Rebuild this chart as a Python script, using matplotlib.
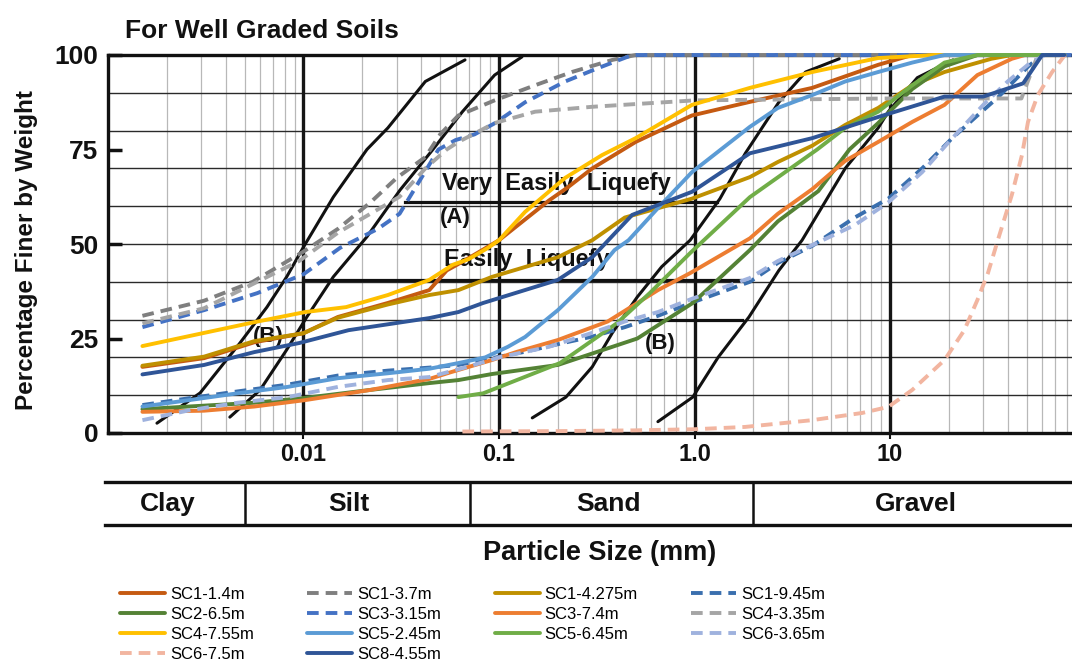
import matplotlib.pyplot as plt
from matplotlib.lines import Line2D
from matplotlib.ticker import NullLocator

plt.rcParams['font.family'] = ['Liberation Sans', 'DejaVu Sans']

# ---- sample curves (particle size in mm, percent finer) ----
sc1_14_x = [0.0015, 0.0031, 0.0056, 0.01, 0.015, 0.027, 0.044, 0.054, 0.066, 0.1, 0.136, 0.18, 0.225, 0.3, 0.5, 0.97, 1.92, 4.0, 8.7, 13, 78]
sc1_14_y = [17.5, 19.8, 24, 26.4, 30.7, 34.4, 37.8, 43, 45.5, 51, 56.5, 61.5, 65, 70, 77, 84, 87.6, 91.3, 97.4, 100, 100]

sc1_37_x = [0.0015, 0.0031, 0.0055, 0.01, 0.015, 0.022, 0.03, 0.042, 0.05, 0.062, 0.095, 0.153, 0.236, 0.38, 0.5, 78]
sc1_37_y = [31, 35, 40, 48, 54, 61, 67.5, 73, 79, 84, 88, 92, 95.5, 98.7, 100, 100]

sc1_4275_x = [0.0015, 0.0031, 0.0056, 0.01, 0.015, 0.027, 0.044, 0.062, 0.092, 0.2, 0.3, 0.44, 0.97, 1.92, 2.67, 4.0, 5.9, 8.7, 13, 19, 33, 42, 78]
sc1_4275_y = [17.8, 20.2, 24.3, 26.4, 30.5, 34, 36.5, 37.8, 41.3, 46.5, 51, 57, 62, 67.7, 71.7, 76, 81.5, 86, 92, 95.5, 99, 100, 100]

sc1_945_x = [0.0015, 0.0026, 0.0046, 0.0083, 0.015, 0.027, 0.044, 0.062, 0.092, 0.136, 0.2, 0.3, 0.44, 0.65, 0.97, 1.92, 2.67, 4.0, 6.6, 9.8, 14.6, 20.8, 28, 36, 51, 60, 78]
sc1_945_y = [7.4, 9.2, 11, 12.8, 15.2, 16.5, 17.3, 18, 19.8, 21.5, 23.5, 25.5, 28, 31, 34.5, 40, 45, 49.5, 57, 62, 70, 78, 84, 89, 97, 100, 100]

sc2_65_x = [0.0015, 0.0056, 0.0102, 0.022, 0.044, 0.062, 0.092, 0.2, 0.51, 0.98, 1.92, 2.67, 4.3, 6.2, 8.7, 13, 19, 28, 78]
sc2_65_y = [6.3, 8, 9.3, 11.4, 13.2, 14, 15.6, 18, 25, 34.4, 48.4, 56, 64, 75, 82, 91, 97, 100, 100]

sc3_315_x = [0.0015, 0.0031, 0.0058, 0.01, 0.0154, 0.024, 0.031, 0.0385, 0.049, 0.06, 0.075, 0.0955, 0.136, 0.218, 0.32, 0.48, 85]
sc3_315_y = [28, 32.5, 37, 42, 49, 54, 58, 66, 75, 77.5, 79, 82, 87.5, 93, 96.5, 100, 100]

sc3_74_x = [0.0015, 0.0031, 0.0056, 0.0102, 0.022, 0.044, 0.056, 0.092, 0.124, 0.2, 0.36, 0.65, 0.95, 1.92, 2.67, 4.0, 5.9, 8.7, 13, 19, 28, 42, 49, 78]
sc3_74_y = [5.6, 5.9, 7, 8.7, 11.4, 14.3, 16, 19.3, 21.5, 24.6, 29.5, 37.8, 42.3, 51.5, 58, 64.5, 72, 77, 82.3, 86.8, 94.7, 99, 100, 100]

sc4_335_x = [0.0015, 0.0031, 0.0095, 0.015, 0.022, 0.031, 0.042, 0.054, 0.062, 0.095, 0.153, 0.3, 1.0, 10, 47, 57]
sc4_335_y = [29, 33, 45.5, 53, 58, 62.5, 70, 75, 77, 82, 85, 86.3, 88, 88.5, 88.5, 100]

sc4_755_x = [0.0015, 0.0057, 0.0102, 0.0165, 0.027, 0.044, 0.058, 0.07, 0.088, 0.1, 0.136, 0.218, 0.336, 0.5, 0.97, 1.92, 4.0, 8.7, 17, 78]
sc4_755_y = [23, 29.4, 32, 33.3, 36.5, 40.5, 44.5, 46, 49, 51, 58.5, 67.5, 73.5, 78, 86.8, 91.3, 95.5, 99.2, 100, 100]

sc5_245_x = [0.0015, 0.0026, 0.0046, 0.0083, 0.015, 0.027, 0.044, 0.062, 0.085, 0.111, 0.136, 0.2, 0.3, 0.39, 0.46, 0.65, 0.97, 1.92, 2.67, 4.0, 5.9, 8.7, 13, 19, 78]
sc5_245_y = [7.0, 8.7, 10.5, 12.2, 14.5, 15.8, 17, 18.5, 20, 22.8, 25.4, 32.5, 41.3, 48.4, 51, 59.5, 69, 81, 86, 89.4, 93, 95.5, 98, 100, 100]

sc5_645_x = [0.062, 0.083, 0.205, 0.4, 0.59, 0.95, 1.92, 4.24, 5.9, 8.7, 13, 19, 28, 78]
sc5_645_y = [9.5, 10.5, 18.5, 29, 37, 47.6, 62.4, 75, 80.7, 85, 92, 98, 100, 100]

sc6_365_x = [0.0015, 0.0026, 0.0046, 0.0083, 0.015, 0.027, 0.044, 0.069, 0.1, 0.18, 0.3, 0.44, 0.65, 0.97, 1.92, 2.67, 4.0, 6.6, 9.8, 14.6, 20, 30, 40, 51, 62, 78]
sc6_365_y = [3.4, 6, 8, 9.5, 12.2, 14, 14.8, 17.5, 20, 22.8, 26.5, 29.5, 32, 35.5, 41, 45.5, 49.7, 55, 61, 69, 77, 86.8, 93, 97.5, 100, 100]

sc6_75_x = [0.065, 0.2, 0.5, 1.0, 1.81, 4.0, 7.2, 9.8, 13, 19, 24, 28, 31.7, 35.6, 42, 47.3, 50.8, 57, 67.5, 78.5]
sc6_75_y = [0.4, 0.5, 0.7, 1.0, 1.6, 3.4, 5.3, 6.9, 11.4, 19.3, 27.2, 35.2, 42.3, 51, 63, 73.5, 82.3, 89.4, 95.5, 100]

sc8_455_x = [0.0015, 0.0031, 0.0056, 0.0095, 0.017, 0.044, 0.062, 0.083, 0.2, 0.3, 0.48, 0.97, 1.92, 4.0, 8.7, 19, 30, 48, 60, 78]
sc8_455_y = [15.5, 18, 21.4, 23.8, 27.2, 30.4, 32, 34.4, 40.5, 46.5, 57.7, 63.8, 74, 78, 83.6, 89, 89, 92.5, 100, 100]

labels = ['SC1-1.4m', 'SC1-3.7m', 'SC1-4.275m', 'SC1-9.45m', 'SC2-6.5m', 'SC3-3.15m', 'SC3-7.4m',
          'SC4-3.35m', 'SC4-7.55m', 'SC5-2.45m', 'SC5-6.45m', 'SC6-3.65m', 'SC6-7.5m', 'SC8-4.55m']
colors = ['#C55A11', '#7F7F7F', '#BF9000', '#3A6FAE', '#548235', '#4472C4', '#ED7D31',
          '#A5A5A5', '#FFC000', '#5B9BD5', '#70AD47', '#9FB2DE', '#F2B5A0', '#2F5597']
dashed = [False, True, False, True, False, True, False, True, False, False, False, True, True, False]
series = [(sc1_14_x, sc1_14_y), (sc1_37_x, sc1_37_y), (sc1_4275_x, sc1_4275_y), (sc1_945_x, sc1_945_y),
          (sc2_65_x, sc2_65_y), (sc3_315_x, sc3_315_y), (sc3_74_x, sc3_74_y), (sc4_335_x, sc4_335_y),
          (sc4_755_x, sc4_755_y), (sc5_245_x, sc5_245_y), (sc5_645_x, sc5_645_y), (sc6_365_x, sc6_365_y),
          (sc6_75_x, sc6_75_y), (sc8_455_x, sc8_455_y)]

# ---- boundary curves of the original scanned chart ----
bound1_x = [0.00178, 0.00296, 0.00473, 0.0065, 0.0082, 0.01, 0.0142, 0.0211, 0.027, 0.042, 0.067]
bound1_y = [2.6, 10.6, 23.8, 33.3, 41.3, 49.2, 62.4, 75, 80.7, 93, 98.7]
bound2_x = [0.0042, 0.006, 0.0082, 0.0104, 0.0142, 0.0211, 0.0312, 0.0459, 0.065, 0.095, 0.131]
bound2_y = [4.2, 11.4, 22, 30.7, 41.3, 51.9, 64.3, 75, 85, 94.7, 99.5]
bound3_x = [0.148, 0.22, 0.30, 0.38, 0.51, 0.68, 0.95, 1.35, 1.82, 2.7, 3.7, 5.5]
bound3_y = [4, 9.5, 17.5, 26.5, 36, 44, 51, 62, 74, 87.5, 95.5, 99]
bound4_x = [0.65, 0.98, 1.32, 1.9, 2.7, 3.55, 5.9, 8.7, 9.8, 13.8, 21]
bound4_y = [3, 9.5, 20, 30.7, 43, 51, 70, 80.7, 85, 94, 98.7]
# zone box edges: (x start, x end, level)
box_lines = [(0.033, 1.3, 61), (0.01, 1.7, 40.5), (0.55, 1.75, 30)]

scan_font = dict(family=['Liberation Sans', 'DejaVu Sans'], fontweight='bold', color='#111111')

W, H = 1072, 668
fig = plt.figure(figsize=(W / 100, H / 100), dpi=100)
ax = fig.add_axes([108 / W, (H - 433) / H, 964 / W, 378 / H])
ax.set_xscale('log')
ax.set_xlim(1e-3, 10 ** (-3 + 964 / 195.5))
ax.set_ylim(0, 100)

# grid of the scanned chart
for dec in [-3, -2, -1, 0, 1]:
    for k in range(2, 10):
        ax.axvline(k * 10 ** dec, color='#b8b8b8', lw=0.9, zorder=0)
for v in [0.01, 0.1, 1, 10]:
    ax.axvline(v, color='#151515', lw=2.4, zorder=1)
for v in range(10, 100, 10):
    ax.axhline(v, color='#2a2a2a', lw=1.0, zorder=0.5)

for bx, by in [(bound1_x, bound1_y), (bound2_x, bound2_y), (bound3_x, bound3_y), (bound4_x, bound4_y)]:
    ax.plot(bx, by, color='#111111', lw=2.2, zorder=2, solid_capstyle='round', solid_joinstyle='round')
for x0, x1, lev in box_lines:
    ax.plot([x0, x1], [lev, lev], color='#111111', lw=2.3, zorder=2)

ax.text(0.196, 66, 'Very  Easily  Liquefy', ha='center', va='center', fontsize=17, zorder=2, **scan_font)
ax.text(0.06, 57, '(A)', ha='center', va='center', fontsize=16, zorder=2, **scan_font)
ax.text(0.139, 45.8, 'Easily  Liquefy', ha='center', va='center', fontsize=17, zorder=2, **scan_font)
ax.text(0.67, 23.8, '(B)', ha='center', va='center', fontsize=16, zorder=2, **scan_font)
ax.text(0.0066, 25.4, '(B)', ha='center', va='center', fontsize=16, zorder=2, **scan_font)

handles = []
for (sx, sy), lab, col, dsh in zip(series, labels, colors, dashed):
    if dsh:
        ln, = ax.plot(sx, sy, color=col, lw=2.8, ls=(0, (3.0, 1.8)), dash_capstyle='butt',
                      zorder=3, clip_on=False, label=lab)
    else:
        ln, = ax.plot(sx, sy, color=col, lw=2.8, zorder=3, clip_on=False, label=lab,
                      solid_capstyle='round', solid_joinstyle='round')
    handles.append(ln)

for side in ['left', 'bottom', 'top']:
    ax.spines[side].set_linewidth(2.4)
    ax.spines[side].set_color('#111111')
ax.spines['right'].set_visible(False)

ax.set_yticks([0, 25, 50, 75, 100])
ax.set_yticklabels(['0', '25', '50', '75', '100'])
ax.set_xticks([0.01, 0.1, 1, 10])
ax.set_xticklabels(['0.01', '0.1', '1.0', '10'])
ax.xaxis.set_minor_locator(NullLocator())
ax.tick_params(axis='y', direction='in', length=10, width=2.5, pad=7, colors='#111111')
ax.tick_params(axis='x', direction='out', length=4, width=1.5, pad=3, colors='#111111')
for t in ax.get_yticklabels():
    t.set_fontsize(19)
    t.set_fontweight('bold')
for t in ax.get_xticklabels():
    t.set_fontsize(17)
    t.set_fontweight('bold')

# title and axis titles in the scan style
fig.text(125 / W, 1 - 31 / H, 'For Well Graded Soils', ha='left', va='center', fontsize=19, **scan_font)
fig.text(27 / W, 1 - 250 / H, 'Percentage Finer by Weight', rotation=90, ha='center', va='center',
         fontsize=17.5, **scan_font)
fig.text(600 / W, 1 - 553 / H, 'Particle Size (mm)', ha='center', va='center', fontsize=19.5, **scan_font)

# soil class band under the axis
fig.add_artist(Line2D([105 / W, 1.0], [1 - 482 / H, 1 - 482 / H], color='#111111', lw=2.4))
fig.add_artist(Line2D([105 / W, 1.0], [1 - 525 / H, 1 - 525 / H], color='#111111', lw=2.4))
for sx in [245, 470, 753]:
    fig.add_artist(Line2D([sx / W, sx / W], [1 - 482 / H, 1 - 525 / H], color='#111111', lw=1.8))
for name, cx in [('Clay', 168), ('Silt', 349), ('Sand', 608), ('Gravel', 916)]:
    fig.text(cx / W, 1 - 504 / H, name, ha='center', va='center', fontsize=19, **scan_font)

order = [0, 4, 8, 12, 1, 5, 9, 13, 2, 6, 10, 3, 7, 11]
fig.legend([handles[i] for i in order], [labels[i] for i in order], ncol=4, loc='upper left',
           bbox_to_anchor=(120 / W, 1 - 587 / H), frameon=False, fontsize=12,
           handlelength=2.7, handletextpad=0.3, columnspacing=3.2, labelspacing=0.3,
           borderpad=0, borderaxespad=0)

fig.savefig('out.png', dpi=100)
